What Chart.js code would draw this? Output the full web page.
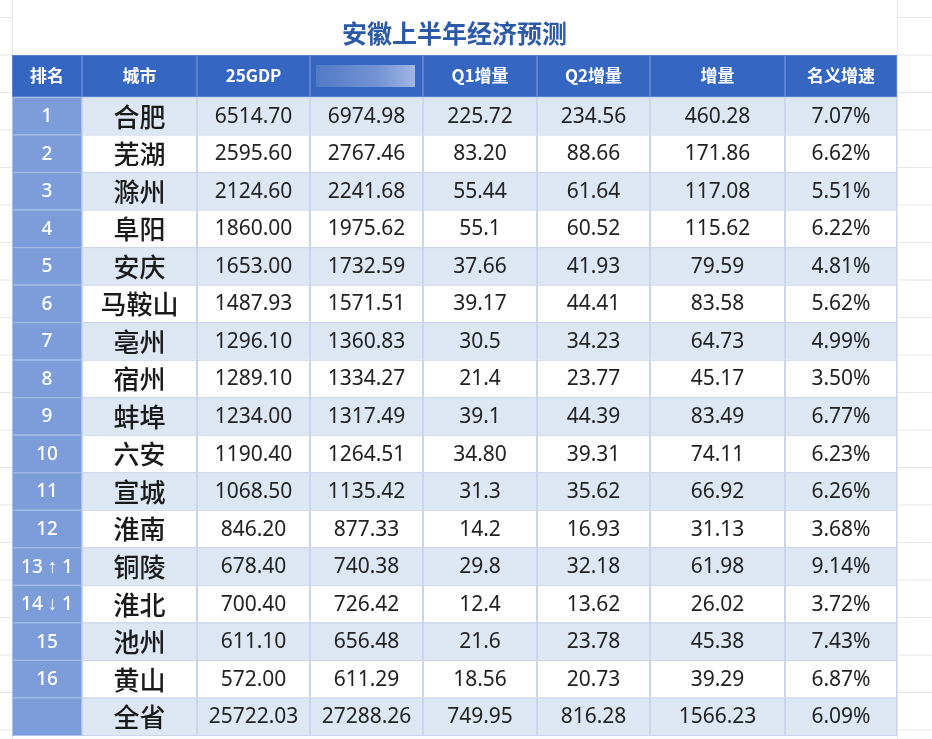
<!DOCTYPE html>
<html><head><meta charset="utf-8">
<script src="https://cdn.jsdelivr.net/npm/chart.js@4"></script>
<style>html,body{margin:0;padding:0;background:#fff}#wrap{width:932px;height:739px}</style>
</head><body><div id="wrap"><canvas id="c"></canvas></div>
<script>
const title = '安徽上半年经济预测';
const headers = ['排名','城市','25GDP','','Q1增量','Q2增量','增量','名义增速'];
const ranks = ['1','2','3','4','5','6','7','8','9','10','11','12','13 ↑ 1','14 ↓ 1','15','16',''];
const cities = ['合肥','芜湖','滁州','阜阳','安庆','马鞍山','亳州','宿州','蚌埠','六安','宣城','淮南','铜陵','淮北','池州','黄山','全省'];
const gdp25 = ['6514.70','2595.60','2124.60','1860.00','1653.00','1487.93','1296.10','1289.10','1234.00','1190.40','1068.50','846.20','678.40','700.40','611.10','572.00','25722.03'];
const gdp26 = ['6974.98','2767.46','2241.68','1975.62','1732.59','1571.51','1360.83','1334.27','1317.49','1264.51','1135.42','877.33','740.38','726.42','656.48','611.29','27288.26'];
const q1 = ['225.72','83.20','55.44','55.1','37.66','39.17','30.5','21.4','39.1','34.80','31.3','14.2','29.8','12.4','21.6','18.56','749.95'];
const q2 = ['234.56','88.66','61.64','60.52','41.93','44.41','34.23','23.77','44.39','39.31','35.62','16.93','32.18','13.62','23.78','20.73','816.28'];
const inc = ['460.28','171.86','117.08','115.62','79.59','83.58','64.73','45.17','83.49','74.11','66.92','31.13','61.98','26.02','45.38','39.29','1566.23'];
const rate = ['7.07%','6.62%','5.51%','6.22%','4.81%','5.62%','4.99%','3.50%','6.77%','6.23%','6.26%','3.68%','9.14%','3.72%','7.43%','6.87%','6.09%'];

// layout (scale units)
const colEdges = [0,70,185,298,411,525,638,773,885];
const headerH = 42, rowH = 37.5;

const tablePlugin = {
  id:'table',
  beforeDraw(chart){
    const ctx = chart.ctx; ctx.save();
    ctx.strokeStyle = '#e6e6e6'; ctx.lineWidth = 1;
    for (let y = 17; y < 739; y += 37.5){ ctx.beginPath(); ctx.moveTo(0,y+0.5); ctx.lineTo(12,y+0.5); ctx.moveTo(897,y+0.5); ctx.lineTo(932,y+0.5); ctx.stroke(); }
    ctx.beginPath(); ctx.moveTo(12.5,0); ctx.lineTo(12.5,739); ctx.moveTo(897.5,0); ctx.lineTo(897.5,739); ctx.stroke();
    ctx.restore();
  },
  afterDraw(chart){
    const {ctx, scales:{x,y}} = chart;
    const X = v => x.getPixelForValue(v), Y = v => y.getPixelForValue(v);
    const cols = [ranks, cities, gdp25, gdp26, q1, q2, inc, rate];
    ctx.save();
    for (let c=0;c<8;c++){
      const x0=X(colEdges[c]), x1=X(colEdges[c+1]), y0=Y(0), y1=Y(headerH);
      ctx.fillStyle='#3466c2'; ctx.fillRect(x0,y0,x1-x0,y1-y0);
      ctx.strokeStyle='#5a84cf'; ctx.strokeRect(x0+0.5,y0+0.5,x1-x0-1,y1-y0-1);
      if (c===3){ const g=ctx.createLinearGradient(x0,0,x1,0); g.addColorStop(0,'#4f78c6'); g.addColorStop(0.6,'#7393d3'); g.addColorStop(1,'#a9bde6'); ctx.fillStyle=g; ctx.fillRect(x0+6,y0+10,x1-x0-14,y1-y0-20); }
      ctx.fillStyle='#fff'; ctx.font='bold 17px "Noto Sans CJK SC"'; ctx.textAlign='center'; ctx.textBaseline='middle';
      ctx.fillText(headers[c], (x0+x1)/2, (y0+y1)/2);
    }
    for (let r=0;r<cities.length;r++){
      const y0=Y(headerH+r*rowH), y1=Y(headerH+(r+1)*rowH);
      for (let c=0;c<8;c++){
        const x0=X(colEdges[c]), x1=X(colEdges[c+1]);
        ctx.fillStyle = c===0 ? '#7c9dd9' : (r%2===0 ? '#dde6f3' : '#ffffff');
        ctx.fillRect(x0,y0,x1-x0,y1-y0);
        ctx.strokeStyle = c===0 ? '#a9c0e8' : '#c9d5ea'; ctx.lineWidth=1;
        ctx.strokeRect(x0+0.5,y0+0.5,x1-x0-1,y1-y0);
        ctx.textAlign='center'; ctx.textBaseline='middle';
        const cx=(x0+x1)/2, cy=(y0+y1)/2+1;
        if (c===0){ ctx.fillStyle='#fff'; ctx.font='500 19px "Noto Sans"'; }
        else if (c===1){ ctx.fillStyle='#1a1a1a'; ctx.font='500 26px "Noto Sans CJK SC"'; }
        else { ctx.fillStyle='#222'; ctx.font='21px "Noto Sans"'; }
        ctx.fillText(cols[c][r], cx, cy);
      }
    }
    ctx.restore();
  }
};

new Chart(document.getElementById('c'), {
  type:'scatter',
  data:{datasets:[{data:[]}]},
  options:{
    responsive:true, maintainAspectRatio:false, animation:false,
    layout:{padding:{left:12,right:35,top:0,bottom:4}},
    plugins:{legend:{display:false},tooltip:{enabled:false},
      title:{display:true,text:title,color:'#2d5aa6',font:{size:25,weight:'bold',family:'"Noto Sans CJK SC"'},padding:{top:18,bottom:7}}},
    scales:{
      x:{type:'linear',display:false,min:0,max:colEdges[colEdges.length-1]},
      y:{type:'linear',display:false,reverse:true,min:0,max:headerH+rowH*cities.length}
    }
  },
  plugins:[tablePlugin]
});
</script></body></html>
